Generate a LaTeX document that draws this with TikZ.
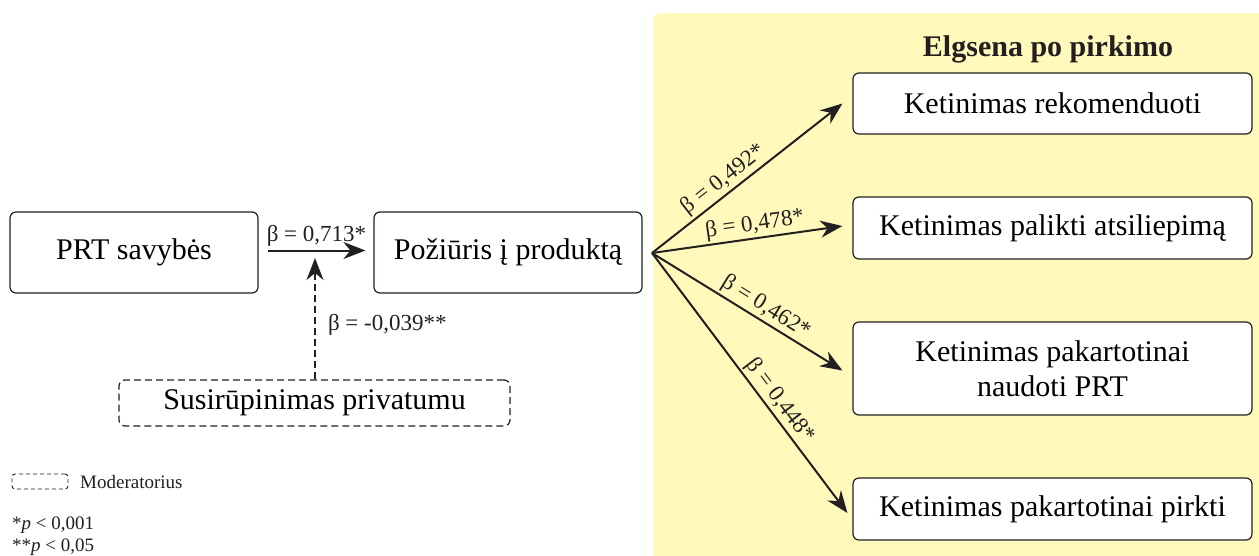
\documentclass[tikz,border=0pt]{standalone}
\usepackage{fontspec}
\setmainfont{Liberation Serif}
\usetikzlibrary{arrows.meta}
\definecolor{panel}{RGB}{255,250,188}
\definecolor{ink}{RGB}{35,31,32}
\tikzset{
  box/.style={draw=ink, line width=1.2pt, rounded corners=6pt, fill=white, inner sep=0pt, font=\fontsize{30}{35}\selectfont, align=center},
  modbox/.style={box, dashed, dash pattern=on 7pt off 4pt},
  arr/.style={draw=ink, line width=2pt, -{Stealth[length=22pt,width=17pt,inset=7pt]}},
  darr/.style={arr, dash pattern=on 7pt off 4pt},
  beta/.style={font=\fontsize{23}{26}\selectfont, text=ink, inner sep=2pt},
  legend/.style={font=\fontsize{19}{22}\selectfont, text=ink, inner sep=0pt}
}
\begin{document}
\begin{tikzpicture}[x=1pt,y=-1pt]
\useasboundingbox (0,0) rectangle (1259,555);
\fill[panel, rounded corners=8pt] (653,13) rectangle (1275,575);
\node[font=\bfseries\fontsize{30}{35}\selectfont, text=ink] (title) at (1048,49) {Elgsena po pirkimo};

\node[box, minimum width=248pt, minimum height=81pt] (prt) at (134,252.5) {PRT savybės};
\node[box, minimum width=268pt, minimum height=81pt] (poz) at (508,252.5) {Požiūris į produktą};
\node[modbox, minimum width=391pt, minimum height=46pt] (sus) at (314.5,403) {Susirūpinimas privatumu};

\node[box, minimum width=399pt, minimum height=61pt] (k1) at (1052.5,103.5) {Ketinimas rekomenduoti};
\node[box, minimum width=399pt, minimum height=62pt] (k2) at (1052.5,228) {Ketinimas palikti atsiliepimą};
\node[box, minimum width=399pt, minimum height=93pt] (k3) at (1052.5,368.5) {Ketinimas pakartotinai\\naudoti PRT};
\node[box, minimum width=399pt, minimum height=62pt] (k4) at (1052.5,509) {Ketinimas pakartotinai pirkti};

\draw[arr] ([xshift=9pt,yshift=2pt]prt.east) -- node[beta, above, yshift=1pt] {β = 0,713*} ([xshift=-8pt,yshift=2pt]poz.west);
\coordinate (mod) at (315,258);
\draw[darr] (sus.north -| mod) -- node[beta, right, pos=0.45, xshift=10pt] {β = -0,039**} (mod);

\coordinate (fan) at (652,253);
\draw[arr] (fan) -- node[beta, above, sloped, pos=0.42] {β = 0,492*} ([xshift=-10pt]k1.west);
\draw[arr] (fan) -- node[beta, above, sloped, pos=0.55] {β = 0,478*} ([xshift=-10pt,yshift=2pt]k2.west);
\draw[arr] (fan) -- node[beta, above, sloped, pos=0.56] {β = 0,462*} ([xshift=-10pt,yshift=-2pt]k3.west);
\draw[arr] (fan) -- node[beta, above, sloped, pos=0.6] {β = 0,448*} ([xshift=-5pt,yshift=-4pt]k4.west);

\node[modbox, line width=0.9pt, dash pattern=on 4pt off 3pt, rounded corners=3pt, minimum width=56pt, minimum height=15pt] (lg) at (40,481.5) {};
\node[legend, anchor=west] (lgt) at (80,482) {Moderatorius};
\node[legend, anchor=west] (p1) at (12,525) {*\textit{p} < 0,001};
\node[legend, anchor=west] (p2) at (12,547) {**\textit{p} < 0,05};
\end{tikzpicture}
\end{document}
